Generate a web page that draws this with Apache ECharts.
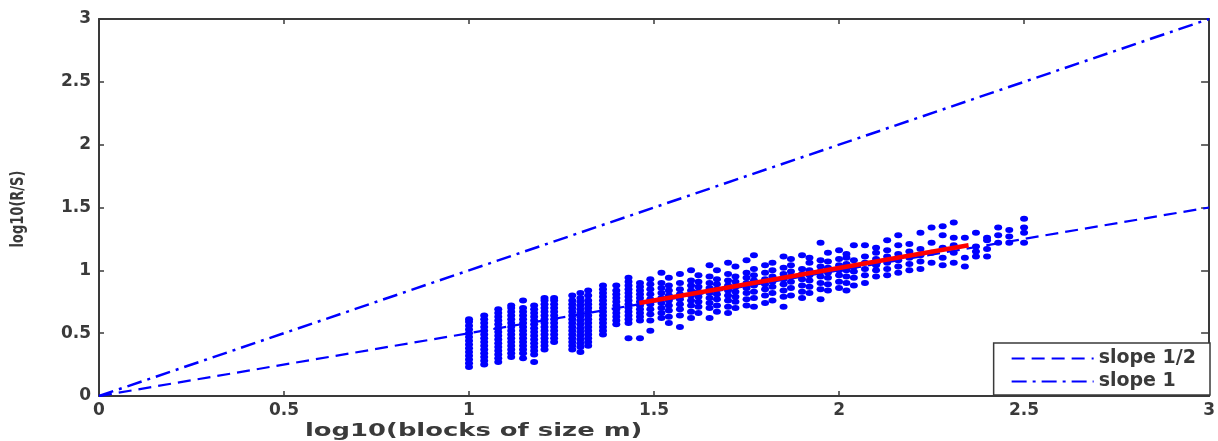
<!DOCTYPE html>
<html>
<head>
<meta charset="utf-8">
<script src="https://cdn.jsdelivr.net/npm/echarts@6/dist/echarts.min.js"></script>
<style>html,body{margin:0;padding:0;background:#fff}#c{width:1218px;height:441px}</style>
</head>
<body>
<div id="c"></div>
<script>
// x ticks / y ticks
const xTicks = [0, 0.5, 1, 1.5, 2, 2.5, 3];
const yTicks = [0, 0.5, 1, 1.5, 2, 2.5, 3];
// reference lines (x from 0 to 3)
const refX = [0, 3];
const slopeHalfY = [0, 1.5];
const slopeOneY = [0, 3];
// fitted red line
const fitX = [1.46, 2.35];
const fitY = [0.74, 1.20];
// scatter columns: x = log10(m), y values
const colX = [1.000, 1.041, 1.079, 1.114, 1.146, 1.176, 1.204, 1.230, 1.279, 1.301, 1.322, 1.362, 1.398, 1.431, 1.462,
  1.49, 1.52, 1.54, 1.57, 1.60, 1.62, 1.65, 1.67, 1.70, 1.72, 1.75, 1.77, 1.80, 1.82, 1.85, 1.87, 1.90, 1.92, 1.95, 1.97,
  2.00, 2.02, 2.04, 2.07, 2.10, 2.13, 2.16, 2.19, 2.22, 2.25, 2.28, 2.31, 2.34, 2.37, 2.40, 2.43, 2.46, 2.50];
const colY = [
  [0.23,0.26,0.29,0.32,0.35,0.38,0.41,0.44,0.47,0.50,0.53,0.56,0.59,0.61],
  [0.25,0.28,0.31,0.34,0.37,0.40,0.43,0.46,0.49,0.52,0.55,0.58,0.61,0.64],
  [0.27,0.30,0.33,0.36,0.39,0.42,0.45,0.48,0.51,0.54,0.57,0.60,0.63,0.66,0.69],
  [0.31,0.34,0.37,0.40,0.43,0.46,0.49,0.52,0.55,0.58,0.61,0.64,0.67,0.70,0.72],
  [0.30,0.34,0.37,0.40,0.43,0.46,0.49,0.52,0.55,0.58,0.61,0.64,0.67,0.70,0.76],
  [0.27,0.33,0.36,0.39,0.42,0.45,0.48,0.51,0.54,0.57,0.60,0.63,0.66,0.69,0.72],
  [0.37,0.40,0.43,0.46,0.49,0.52,0.55,0.58,0.61,0.64,0.67,0.70,0.73,0.76,0.78],
  [0.43,0.46,0.49,0.52,0.55,0.58,0.61,0.64,0.67,0.70,0.73,0.76,0.78],
  [0.37,0.40,0.43,0.46,0.49,0.52,0.55,0.58,0.61,0.64,0.67,0.70,0.73,0.76,0.80],
  [0.35,0.39,0.42,0.45,0.48,0.51,0.54,0.57,0.60,0.63,0.66,0.69,0.72,0.75,0.78,0.82],
  [0.40,0.43,0.46,0.49,0.52,0.55,0.58,0.61,0.64,0.67,0.70,0.73,0.76,0.80,0.84],
  [0.49,0.52,0.55,0.58,0.61,0.64,0.67,0.70,0.73,0.76,0.79,0.82,0.85,0.88],
  [0.57,0.60,0.63,0.66,0.69,0.72,0.75,0.78,0.81,0.84,0.88],
  [0.46,0.58,0.61,0.64,0.67,0.70,0.73,0.76,0.79,0.82,0.85,0.88,0.91,0.94],
  [0.46,0.60,0.63,0.66,0.69,0.72,0.75,0.78,0.81,0.84,0.87,0.90],
  [0.52,0.60,0.65,0.69,0.73,0.77,0.81,0.85,0.89,0.93],
  [0.62,0.66,0.70,0.74,0.78,0.82,0.86,0.90,0.98],
  [0.58,0.63,0.68,0.72,0.76,0.80,0.84,0.88,0.94],
  [0.55,0.64,0.69,0.73,0.77,0.81,0.85,0.90,0.97],
  [0.62,0.67,0.72,0.76,0.80,0.84,0.88,0.92,1.00],
  [0.66,0.71,0.75,0.79,0.83,0.87,0.91,0.96],
  [0.62,0.70,0.74,0.78,0.82,0.86,0.90,0.95,1.04],
  [0.67,0.72,0.77,0.81,0.85,0.89,0.93,1.00],
  [0.66,0.71,0.76,0.80,0.84,0.88,0.92,0.97,1.06],
  [0.70,0.75,0.79,0.83,0.87,0.91,0.95,1.03],
  [0.72,0.77,0.82,0.86,0.90,0.94,0.98,1.08],
  [0.71,0.78,0.83,0.88,0.92,0.96,1.01,1.12],
  [0.74,0.80,0.85,0.89,0.93,0.98,1.04],
  [0.76,0.82,0.87,0.91,0.95,1.00,1.06],
  [0.71,0.79,0.84,0.89,0.93,0.97,1.02,1.11],
  [0.80,0.86,0.91,0.95,0.99,1.04,1.09],
  [0.78,0.83,0.88,0.93,0.97,1.01,1.12],
  [0.82,0.87,0.92,0.96,1.00,1.06,1.10],
  [0.77,0.85,0.90,0.95,0.99,1.03,1.08,1.22],
  [0.84,0.89,0.94,0.98,1.02,1.07,1.14],
  [0.86,0.91,0.96,1.00,1.04,1.09,1.16],
  [0.84,0.90,0.95,1.00,1.05,1.10,1.13],
  [0.88,0.94,0.99,1.03,1.08,1.20],
  [0.90,0.96,1.01,1.06,1.11,1.20],
  [0.95,1.00,1.04,1.09,1.14,1.18],
  [0.96,1.01,1.06,1.11,1.16,1.24],
  [0.98,1.03,1.08,1.13,1.20,1.28],
  [1.00,1.05,1.10,1.15,1.21],
  [1.01,1.07,1.12,1.17,1.30],
  [1.06,1.14,1.22,1.34],
  [1.04,1.10,1.18,1.28,1.35],
  [1.06,1.14,1.20,1.26,1.38],
  [1.03,1.10,1.26],
  [1.11,1.15,1.19,1.30],
  [1.11,1.17,1.24,1.26],
  [1.22,1.28,1.34],
  [1.22,1.27,1.32],
  [1.22,1.30,1.34,1.41]
];
const xName = 'log10(blocks of size m)';
const yName = 'log10(R/S)';
const legendNames = ['slope 1/2', 'slope 1'];

const pts = [];
colX.forEach((x, i) => colY[i].forEach(y => pts.push([x, y])));
const pair = (xs, ys) => xs.map((x, i) => [x, ys[i]]);

const axisCol = '#3a3a3a';
const labelFont = {color: '#3a3a3a', fontFamily: 'DejaVu Sans', fontSize: 17, fontWeight: 'bold'};
const chart = echarts.init(document.getElementById('c'), null, {renderer: 'canvas'});
chart.setOption({
  animation: false,
  backgroundColor: '#fff',
  grid: {left: 99, top: 19, right: 0, bottom: 45, containLabel: false},
  xAxis: [
    {type: 'value', min: xTicks[0], max: xTicks[xTicks.length-1], interval: 0.5, position: 'bottom',
     axisLine: {show: true, onZero: false, lineStyle: {color: axisCol, width: 2}},
     axisTick: {show: true, inside: true, length: 5, lineStyle: {color: axisCol, width: 1.5}},
     axisLabel: Object.assign({margin: 6, formatter: v => String(v), showMaxLabel: true}, labelFont),
     splitLine: {show: false}},
    {type: 'value', min: xTicks[0], max: xTicks[xTicks.length-1], interval: 0.5, position: 'top',
     axisLine: {show: true, onZero: false, lineStyle: {color: axisCol, width: 2}},
     axisTick: {show: true, inside: true, length: 5, lineStyle: {color: axisCol, width: 1.5}},
     axisLabel: {show: false}, splitLine: {show: false}}
  ],
  yAxis: [
    {type: 'value', min: yTicks[0], max: yTicks[yTicks.length-1], interval: 0.5, position: 'left',
     axisLine: {show: true, onZero: false, lineStyle: {color: axisCol, width: 2}},
     axisTick: {show: true, inside: true, length: 5, lineStyle: {color: axisCol, width: 1.5}},
     axisLabel: Object.assign({margin: 8, formatter: v => String(v)}, labelFont),
     splitLine: {show: false}},
    {type: 'value', min: yTicks[0], max: yTicks[yTicks.length-1], interval: 0.5, position: 'right',
     axisLine: {show: true, onZero: false, lineStyle: {color: axisCol, width: 2}},
     axisTick: {show: true, inside: true, length: 8, lineStyle: {color: axisCol, width: 1.5}},
     axisLabel: {show: false}, splitLine: {show: false}}
  ],
  legend: {
    data: legendNames.map(n => ({name: n})),
    orient: 'vertical', right: 8, top: 343,
    backgroundColor: '#fff', borderColor: axisCol, borderWidth: 1.5, borderRadius: 0,
    padding: [6, 14, 4, 17], itemGap: 4, itemWidth: 82, itemHeight: 14,
    itemStyle: {opacity: 0},
    textStyle: {color: '#3a3a3a', fontFamily: 'DejaVu Sans', fontSize: 19, fontWeight: 'bold', lineHeight: 17}
  },
  series: [
    {type: 'line', name: legendNames[0], data: pair(refX, slopeHalfY), showSymbol: false, symbol: 'none',
     color: '#0000ff', lineStyle: {color: '#0000ff', width: 2.2, type: [13, 7]}, z: 2},
    {type: 'line', name: legendNames[1], data: pair(refX, slopeOneY), showSymbol: false, symbol: 'none',
     color: '#0000ff', lineStyle: {color: '#0000ff', width: 2.5, type: [15, 6, 3, 6]}, z: 2},
    {type: 'scatter', name: 'data', data: pts, symbol: 'circle', symbolSize: [8, 6],
     itemStyle: {color: '#0000ff', opacity: 1}, z: 3},
    {type: 'line', name: 'fit', data: pair(fitX, fitY), showSymbol: false, symbol: 'none',
     color: '#ff0000', lineStyle: {color: '#ff0000', width: 4.5}, z: 4}
  ],
  graphic: [
    {type: 'text', x: 305, y: 423, scaleX: 1.52,
     style: {text: xName, fill: '#3a3a3a', font: 'bold 17px "DejaVu Sans"'}},
    {type: 'text', x: 19, y: 209, rotation: Math.PI / 2, scaleY: 1.3,
     style: {text: yName, fill: '#3a3a3a', font: 'bold 13px "DejaVu Sans"', align: 'center', verticalAlign: 'middle'}}
  ]
});
</script>
</body>
</html>
